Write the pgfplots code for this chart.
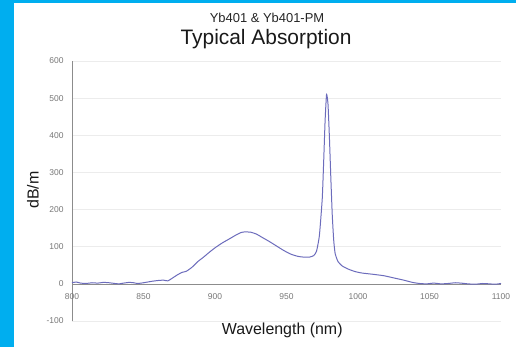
\documentclass[border=0pt]{standalone}
\usepackage{fontspec}
\setmainfont{Liberation Sans}
\usepackage{pgfplots}
\pgfplotsset{compat=1.18}
\definecolor{bgblue}{RGB}{0,174,239}
\definecolor{curve}{RGB}{108,108,188}
\definecolor{gridc}{RGB}{236,236,236}
\definecolor{tickc}{RGB}{120,120,120}
\begin{document}
\begin{tikzpicture}[x=1bp,y=1bp]
\fill[bgblue] (0,0) rectangle (516,347);
\fill[white] (14,0) rectangle (516,344);
\node[font=\fontsize{13}{14}\selectfont, text=black!85] at (267,329) {Yb401 \& Yb401-PM};
\node[font=\fontsize{21}{23}\selectfont, text=black!90] at (266,308) {Typical Absorption};
\node[font=\fontsize{16}{18}\selectfont, text=black!90, rotate=90] at (33,157) {dB/m};
\begin{axis}[
  at={(72bp,26bp)}, anchor=south west,
  scale only axis, width=429bp, height=260bp,
  xmin=800, xmax=1100, ymin=-100, ymax=600,
  enlargelimits=false,
  axis x line=none,
  axis y line*=left,
  y axis line style={draw=black!45, line width=0.6pt},
  ytick={-100,0,...,600},
  xtick=\empty,
  ymajorgrids, grid style={gridc, line width=0.6pt},
  major tick length=0pt,
  yticklabel style={font=\fontsize{8.5}{9}\selectfont, text=tickc, xshift=-5bp},
  /pgf/number format/assume math mode=true,
  clip=false,
]
\draw[black!45, line width=0.6pt] (axis cs:800,0) -- (axis cs:1100,0);
\pgfplotsinvokeforeach{800,850,900,950,1000,1050,1100}{
  \node[font=\fontsize{8.5}{9}\selectfont, text=tickc, anchor=north] at (axis cs:#1,0) [yshift=-6bp] {#1};
}
\node[font=\fontsize{16}{18}\selectfont, text=black!90] at (axis cs:947,-100) [yshift=-9bp] {Wavelength (nm)};
\addplot[curve, line width=1pt, smooth, tension=0.3] coordinates {
(800,3)(803,5)(806,2)(810,1)(814,3)(818,2)(822,4)(826,3)(830,1)(833,0)(836,2)(840,4)(843,3)(846,1)(850,3)(853,5)(856,7)(860,9)(864,10)(867,8)
(870,15)(874,25)(877,31)(880,34)(884,45)(888,60)(892,72)(896,85)(900,97)(905,110)(910,121)(914,130)(918,138)(921,140)(925,139)(929,134)(933,125)
(938,114)(943,102)(948,90)(953,80)(958,74)(962,72)(966,72)(969,76)(971,88)(973,130)(975,230)(976,330)(977,440)(978,510)(979,485)(980,395)(981,285)
(982,185)(983,118)(984,82)(986,60)(989,48)(993,40)(998,33)(1003,29)(1010,26)(1018,22)(1025,16)(1032,10)(1038,4)(1043,1)(1048,0)(1053,2)(1058,0)(1063,1)(1068,3)(1072,2)(1077,0)(1082,-1)(1087,1)(1092,0)(1096,-1)(1100,1)
};
\end{axis}
\end{tikzpicture}
\end{document}
